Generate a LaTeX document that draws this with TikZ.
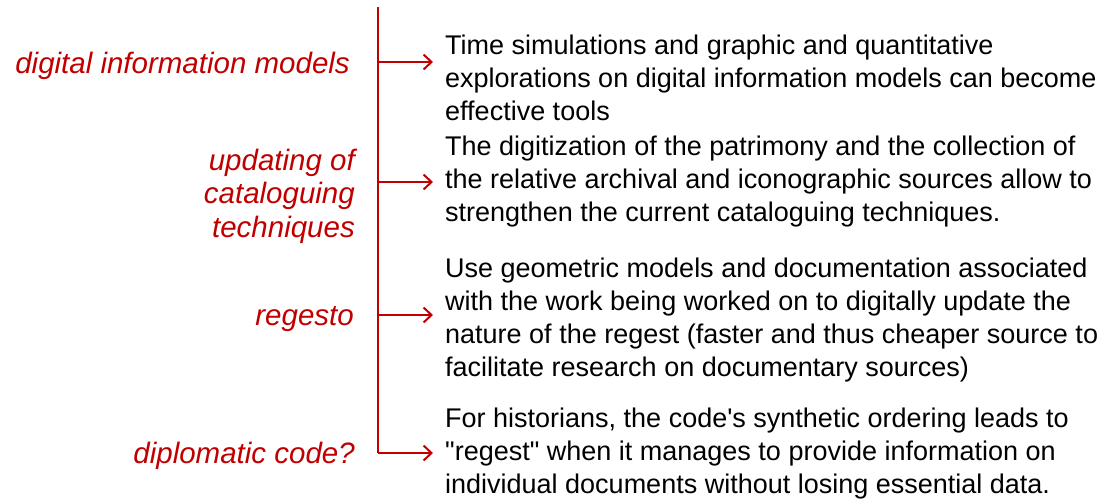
\documentclass[tikz,border=0pt]{standalone}
\usepackage{fontspec}
\setmainfont{Liberation Sans}
\usetikzlibrary{arrows.meta}
\definecolor{darkred}{HTML}{C00000}
% straight quotes, past the tex-text mapping
\newcommand\dq{\XeTeXglyph\XeTeXcharglyph"22\relax}
\newcommand\sq{\XeTeXglyph\XeTeXcharglyph"27\relax}

\tikzset{
  lbl/.style={anchor=base east, align=right, inner sep=0pt, text=darkred,
    font=\fontsize{29.5}{33.5}\selectfont\itshape},
  txt/.style={anchor=base west, align=left, inner sep=0pt,
    font=\fontsize{27}{33}\selectfont},
  arr/.style={darkred, line width=2pt, -{Straight Barb[length=8pt,width=15pt]},
    shorten >=12pt}
}

\begin{document}
\begin{tikzpicture}[x=1pt,y=-1pt]
\useasboundingbox (0,0) rectangle (1118,498);

%labels (base = last line)
\node[lbl] (dim) at (350,73) {digital information models};
\node[lbl] (upd) at (355,237) {updating of\\cataloguing\\techniques};
\node[lbl] (reg) at (354,325) {regesto};
\node[lbl] (dip) at (355,463) {diplomatic code?};

%texts (base = last line)
\node[txt] (t1) at (445,120) {Time simulations and graphic and quantitative\\
  explorations on digital information models can become\\effective tools};
\node[txt] (t2) at (445,221) {The digitization of the patrimony and the collection of\\
  the relative archival and iconographic sources allow to\\
  strengthen the current cataloguing techniques.};
\node[txt] (t3) at (445,376) {Use geometric models and documentation associated\\
  with the work being worked on to digitally update the\\
  nature of the regest (faster and thus cheaper source to\\
  facilitate research on documentary sources)};
\node[txt] (t4) at (445,493) {For historians, the code\sq s synthetic ordering leads to\\
  \dq regest\dq{} when it manages to provide information on\\
  individual documents without losing essential data.};

%trunk
\coordinate (top) at (378,7);
\coordinate (b1) at (378,62);
\coordinate (b2) at (378,182);
\coordinate (b3) at (378,315);
\coordinate (b4) at (378,453);
\draw[darkred, line width=2pt] (top) -- (b4);

%arrows
\draw[arr] (b1) -- (b1 -| t1.west);
\draw[arr] (b2) -- (b2 -| t2.west);
\draw[arr] (b3) -- (b3 -| t3.west);
\draw[arr] (b4) -- (b4 -| t4.west);

\end{tikzpicture}
\end{document}
